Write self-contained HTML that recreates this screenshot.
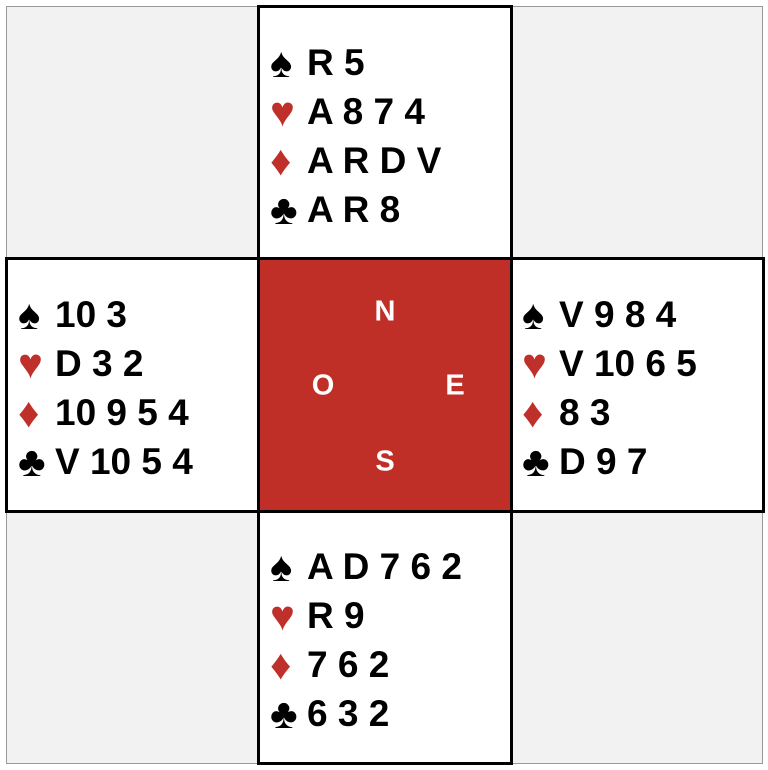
<!DOCTYPE html>
<html><head><style>
html,body{margin:0;padding:0;background:#fff;}
body{width:768px;height:770px;position:relative;overflow:hidden;font-family:"Liberation Sans",Arial,sans-serif;}
.c{position:absolute;box-sizing:border-box;}
.g{background:#f2f2f2;border:1px solid #999;}
.w{background:#fff;border:3px solid #000;}
.r{background:#bf2f28;border:3px solid #000;}
.h{position:absolute;font-weight:bold;font-size:37px;letter-spacing:0;color:#000;line-height:49px;white-space:nowrap;}
.h div{height:49px;}
.s{display:inline-block;width:37px;font-size:42px;vertical-align:top;line-height:49px;}
.red{color:#c0302a;}
.L{position:absolute;color:#fff;font-weight:bold;font-size:29px;transform:translate(-50%,-50%);}
</style></head><body>
<div class="c g" style="left:6px;top:6px;width:254px;height:254px"></div>
<div class="c g" style="left:510px;top:6px;width:253px;height:254px"></div>
<div class="c g" style="left:6px;top:510px;width:254px;height:254px"></div>
<div class="c g" style="left:510px;top:510px;width:253px;height:254px"></div>
<div class="c w" style="left:257px;top:5px;width:256px;height:256px"></div>
<div class="c w" style="left:5px;top:257px;width:256px;height:256px"></div>
<div class="c w" style="left:509px;top:257px;width:256px;height:256px"></div>
<div class="c w" style="left:257px;top:509px;width:256px;height:256px"></div>
<div class="c r" style="left:257px;top:257px;width:256px;height:256px"></div>

<div class="h" style="left:270px;top:38px"><div><span class="s">♠</span>R 5</div><div><span class="s red">♥</span>A 8 7 4</div><div><span class="s red">♦</span>A R D V</div><div><span class="s">♣</span>A R 8</div></div>
<div class="h" style="left:18px;top:290px"><div><span class="s">♠</span>10 3</div><div><span class="s red">♥</span>D 3 2</div><div><span class="s red">♦</span>10 9 5 4</div><div><span class="s">♣</span>V 10 5 4</div></div>
<div class="h" style="left:522px;top:290px"><div><span class="s">♠</span>V 9 8 4</div><div><span class="s red">♥</span>V 10 6 5</div><div><span class="s red">♦</span>8 3</div><div><span class="s">♣</span>D 9 7</div></div>
<div class="h" style="left:270px;top:542px"><div><span class="s">♠</span>A D 7 6 2</div><div><span class="s red">♥</span>R 9</div><div><span class="s red">♦</span>7 6 2</div><div><span class="s">♣</span>6 3 2</div></div>

<div class="L" style="left:385px;top:312px">N</div>
<div class="L" style="left:323px;top:386px">O</div>
<div class="L" style="left:455px;top:386px">E</div>
<div class="L" style="left:385px;top:462px">S</div>
</body></html>
